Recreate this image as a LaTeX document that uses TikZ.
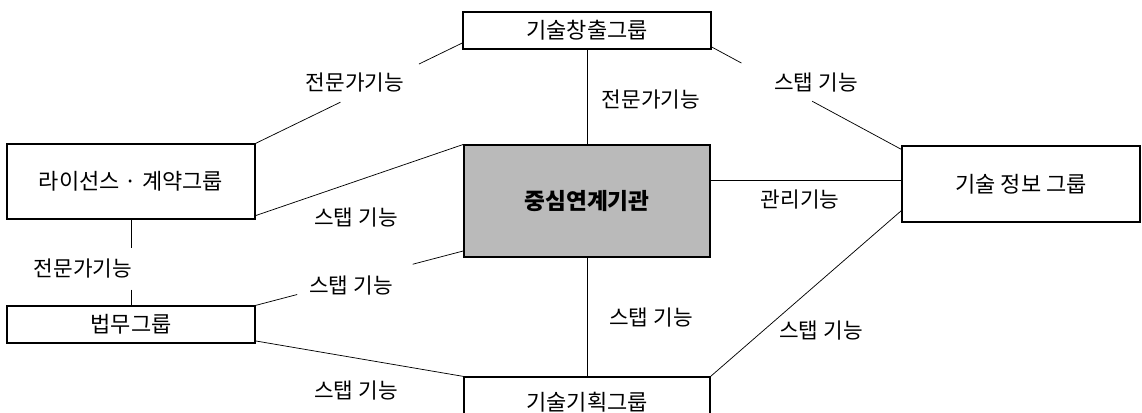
\documentclass[tikz,border=0pt]{standalone}
\usepackage{fontspec}
\usetikzlibrary{calc}
\newfontfamily\cjk{Noto Sans CJK KR}
\begin{document}
\begin{tikzpicture}[x=0.75pt,y=-0.75pt,
  box/.style={draw=black,line width=0.9pt,rectangle,inner sep=0pt,fill=white,
    font=\cjk\fontsize{16.5}{19}\selectfont},
  conn/.style={draw=black,line width=0.55pt},
  lbl/.style={font=\cjk\fontsize{16}{19}\selectfont,inner sep=1pt}]
\clip (0,0) rectangle (1142,412);
\fill[white] (0,0) rectangle (1142,412);
% boxes
\node[box,minimum width=186pt,minimum height=27.75pt] (top) at (587,30.5) {기술창출그룹};
\node[box,minimum width=184.5pt,minimum height=84pt,fill=black!27,
  font=\cjk\bfseries\fontsize{17}{20}\selectfont] (ctr) at (587,201) {중심연계기관};
\node[box,minimum width=186pt,minimum height=56.25pt] (lic) at (131,181.5) {라이선스 · 계약그룹};
\node[box,minimum width=186pt,minimum height=27.75pt] (beop) at (131,324.5) {법무그룹};
\node[box,minimum width=178.5pt,minimum height=57pt] (info) at (1021,184) {기술 정보 그룹};
\node[box,minimum width=184.5pt,minimum height=37.5pt] (bot) at (587,402) {기술기획그룹};
% end points of broken connectors
\coordinate (tlA) at (lic.north east);
\coordinate (tlB) at ([yshift=5pt]top.south west);
\coordinate (trA) at ([yshift=2pt]top.south east);
\coordinate (trB) at ([yshift=-3pt]info.north west);
\coordinate (lmA) at (beop.north east);
\coordinate (lmB) at ([yshift=5pt]ctr.south west);
% connectors
\draw[conn] (tlA) -- ($(tlA)!0.41!(tlB)$);
\draw[conn] ($(tlA)!0.79!(tlB)$) -- (tlB);
\draw[conn] (trA) -- ($(trA)!0.157!(trB)$);
\draw[conn] ($(trA)!0.53!(trB)$) -- (trB);
\draw[conn] (lmA) -- ($(lmA)!0.20!(lmB)$);
\draw[conn] ($(lmA)!0.756!(lmB)$) -- (lmB);
\draw[conn] (top.south) -- (ctr.north);
\draw[conn] ([yshift=3pt]lic.south east) -- (ctr.north west);
\coordinate (m) at ([yshift=3pt]info.west);
\draw[conn] (ctr.east |- m) -- (m);
\draw[conn] (ctr.south) -- (bot.north);
\draw[conn] ([yshift=2pt]beop.south east) -- (bot.north west);
\draw[conn] (bot.north east) -- ([yshift=9pt]info.south west);
% lic - beop with label gap
\node[lbl,inner ysep=8pt] (l7) at (83,269) {전문가기능};
\draw[conn] (lic.south) -- (lic.south |- l7.north);
\draw[conn] (beop.north |- l7.south) -- (beop.north);
% labels
\node[lbl] (l1) at (355,83) {전문가기능};
\node[lbl] (l2) at (816,83) {스탭 기능};
\node[lbl] (l3) at (651,100) {전문가기능};
\node[lbl] (l4) at (356,218) {스탭 기능};
\node[lbl] (l6) at (351,286) {스탭 기능};
\node[lbl] (l5) at (800,200) {관리기능};
\node[lbl] (l8) at (651,318) {스탭 기능};
\node[lbl] (l9) at (356,390) {스탭 기능};
\node[lbl] (l10) at (821,331) {스탭 기능};
\end{tikzpicture}
\end{document}
